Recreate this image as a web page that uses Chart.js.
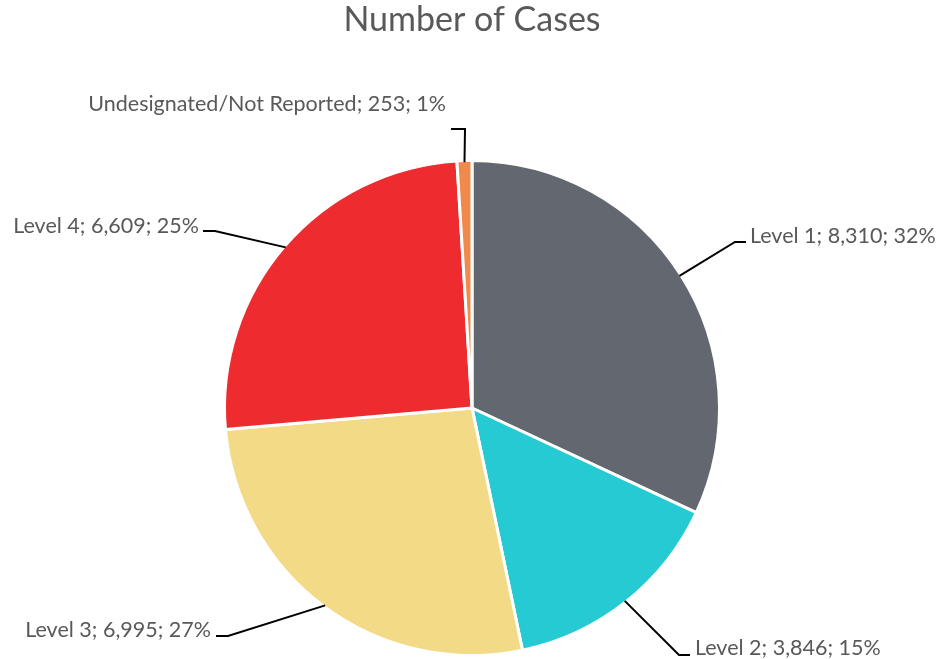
<!DOCTYPE html>
<html>
<head>
<meta charset="utf-8">
<script src="https://cdn.jsdelivr.net/npm/chart.js@4"></script>
<style>
  html, body { margin: 0; padding: 0; background: #fff; }
  #wrap { width: 942px; height: 659px; }
</style>
</head>
<body>
<div id="wrap"><canvas id="grafico"></canvas></div>
<script>
const categorias = ['Level 1', 'Level 2', 'Level 3', 'Level 4', 'Undesignated/Not Reported'];
const casos = [8310, 3846, 6995, 6609, 253];
const percentuais = ['32%', '15%', '27%', '25%', '1%'];
const cores = ['#636870', '#25CAD3', '#F2DA86', '#EE2B2F', '#EF8A4B'];

// where each label sits: elbow of the leader line, end of the short horizontal, text anchor
const posRotulos = [
    { elbow: [735, 242], end: [746, 242], text: [750, 236], align: 'left' },
    { elbow: [679, 655], end: [690, 655], text: [695, 648], align: 'left' },
    { elbow: [228, 636], end: [216, 636], text: [211, 630], align: 'right' },
    { elbow: [215, 231], end: [203, 231], text: [199, 226], align: 'right' },
    { elbow: [465, 129], end: [451, 129], text: [446, 104], align: 'right' }
];

const fonteTexto = '21.5px Lato, "Open Sans", sans-serif';
const corTexto = '#595959';

const rotulosPlugin = {
    id: 'rotulos',
    afterDatasetsDraw(chart) {
        const ctx = chart.ctx;
        const meta = chart.getDatasetMeta(0);
        meta.data.forEach((arc, i) => {
            const meio = (arc.startAngle + arc.endAngle) / 2;
            const r = arc.outerRadius - 1.5;
            const x0 = arc.x + Math.cos(meio) * r;
            const y0 = arc.y + Math.sin(meio) * r;
            const p = posRotulos[i];
            ctx.save();
            ctx.strokeStyle = '#000';
            ctx.lineWidth = 2;
            ctx.beginPath();
            ctx.moveTo(x0, y0);
            ctx.lineTo(p.elbow[0], p.elbow[1]);
            ctx.lineTo(p.end[0], p.end[1]);
            ctx.stroke();
            ctx.fillStyle = corTexto;
            ctx.font = fonteTexto;
            ctx.textAlign = p.align;
            ctx.textBaseline = 'middle';
            const valor = casos[i].toLocaleString('en-US');
            ctx.fillText(`${categorias[i]}; ${valor}; ${percentuais[i]}`, p.text[0], p.text[1]);
            ctx.restore();
        });
    }
};

const ctx = document.getElementById('grafico').getContext('2d');
const chart = new Chart(ctx, {
    type: 'pie',
    data: {
        labels: categorias,
        datasets: [{
            data: casos,
            backgroundColor: cores,
            borderColor: '#ffffff',
            borderWidth: 3
        }]
    },
    options: {
        responsive: true,
        maintainAspectRatio: false,
        animation: false,
        layout: {
            padding: { left: 2, bottom: 2 }
        },
        plugins: {
            legend: { display: false },
            tooltip: { enabled: false },
            title: {
                display: true,
                text: 'Number of Cases',
                color: corTexto,
                font: { family: 'Lato, "Open Sans", sans-serif', size: 34, weight: 'normal', lineHeight: 1.2 },
                padding: { top: 0, bottom: 118.2 }
            }
        }
    },
    plugins: [rotulosPlugin]
});
</script>
</body>
</html>
